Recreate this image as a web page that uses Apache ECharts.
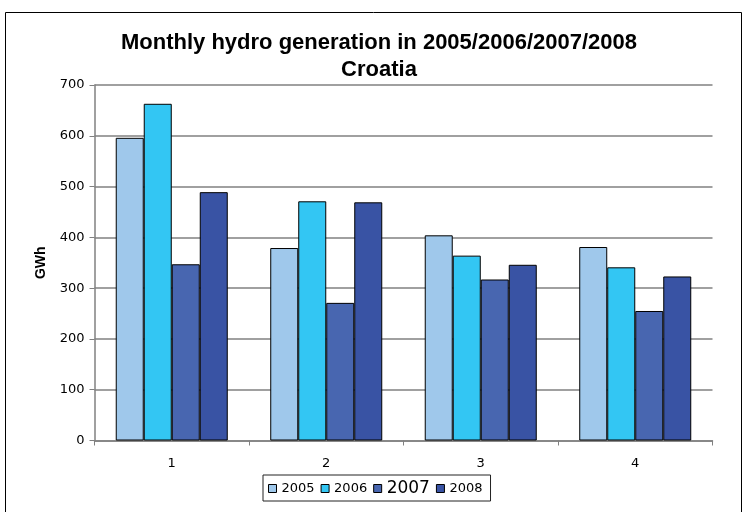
<!DOCTYPE html>
<html>
<head>
<meta charset="utf-8">
<script src="https://cdn.jsdelivr.net/npm/echarts@6/dist/echarts.min.js"></script>
<style>
  html, body { margin: 0; padding: 0; background: #fff; }
  #chart { width: 742px; height: 512px; }
</style>
</head>
<body>
<div id="chart"></div>
<script>
const categories = ['1', '2', '3', '4'];
const years = ['2005', '2006', '2007', '2008'];
const gen2005 = [596, 379, 404, 381];
const gen2006 = [663, 471, 364, 341];
const gen2007 = [347, 271, 317, 255];
const gen2008 = [489, 469, 346, 323];
const colors = ['#9FC8EB', '#33C6F3', '#4866B0', '#3953A4'];

const chart = echarts.init(document.getElementById('chart'));

const values = [gen2005, gen2006, gen2007, gen2008];

chart.setOption({
  animation: false,
  title: {
    text: 'Monthly hydro generation in 2005/2006/2007/2008\nCroatia',
    left: 374,
    textAlign: 'center',
    top: 24,
    textStyle: {
      fontFamily: 'Liberation Sans',
      fontSize: 22,
      fontWeight: 'bold',
      color: '#000',
      lineHeight: 27
    }
  },
  graphic: [{
    type: 'rect',
    shape: { x: 5.5, y: 12.5, width: 736, height: 520 },
    style: { fill: 'none', stroke: '#000', lineWidth: 1 },
    silent: true
  }],
  grid: { left: 94.5, right: 29.5, top: 85, bottom: 71.5 },
  legend: {
    data: years,
    left: 263,
    top: 475,
    padding: [5, 8, 4, 5],
    borderColor: '#222',
    borderWidth: 1,
    itemWidth: 8,
    itemHeight: 8,
    itemGap: 6,
    icon: 'rect',
    itemStyle: { borderColor: '#000', borderWidth: 1 },
    formatter: function (name) {
      return name === '2007' ? '{big|' + name + '}' : '{sm|' + name + '}';
    },
    textStyle: {
      fontFamily: 'DejaVu Sans',
      color: '#000',
      rich: {
        sm: { fontSize: 13, fontFamily: 'DejaVu Sans', color: '#000' },
        big: { fontSize: 17, fontFamily: 'DejaVu Sans', color: '#000' }
      }
    }
  },
  xAxis: {
    type: 'category',
    data: categories,
    axisLine: { lineStyle: { color: '#808080', width: 1.5 } },
    axisTick: { show: true, length: 5, lineStyle: { color: '#808080' } },
    axisLabel: {
      fontFamily: 'DejaVu Sans',
      fontSize: 13,
      color: '#000',
      margin: 17
    }
  },
  yAxis: {
    type: 'value',
    min: 0,
    max: 700,
    interval: 100,
    name: 'GWh',
    nameLocation: 'middle',
    nameGap: 46,
    nameTextStyle: {
      fontFamily: 'Liberation Sans',
      fontSize: 14,
      fontWeight: 'bold',
      color: '#000'
    },
    axisLine: { show: true, lineStyle: { color: '#808080', width: 1.5 } },
    axisTick: { show: true, length: 5, lineStyle: { color: '#808080' } },
    axisLabel: {
      fontFamily: 'DejaVu Sans',
      fontSize: 13,
      color: '#000',
      margin: 10
    },
    splitLine: { lineStyle: { color: '#808080', width: 1.5 } }
  },
  series: years.map((y, i) => ({
    name: y,
    type: 'bar',
    data: values[i],
    barGap: '0%',
    barCategoryGap: '27.5%',
    itemStyle: {
      color: colors[i],
      borderColor: '#000',
      borderWidth: 1
    }
  }))
});
</script>
</body>
</html>
